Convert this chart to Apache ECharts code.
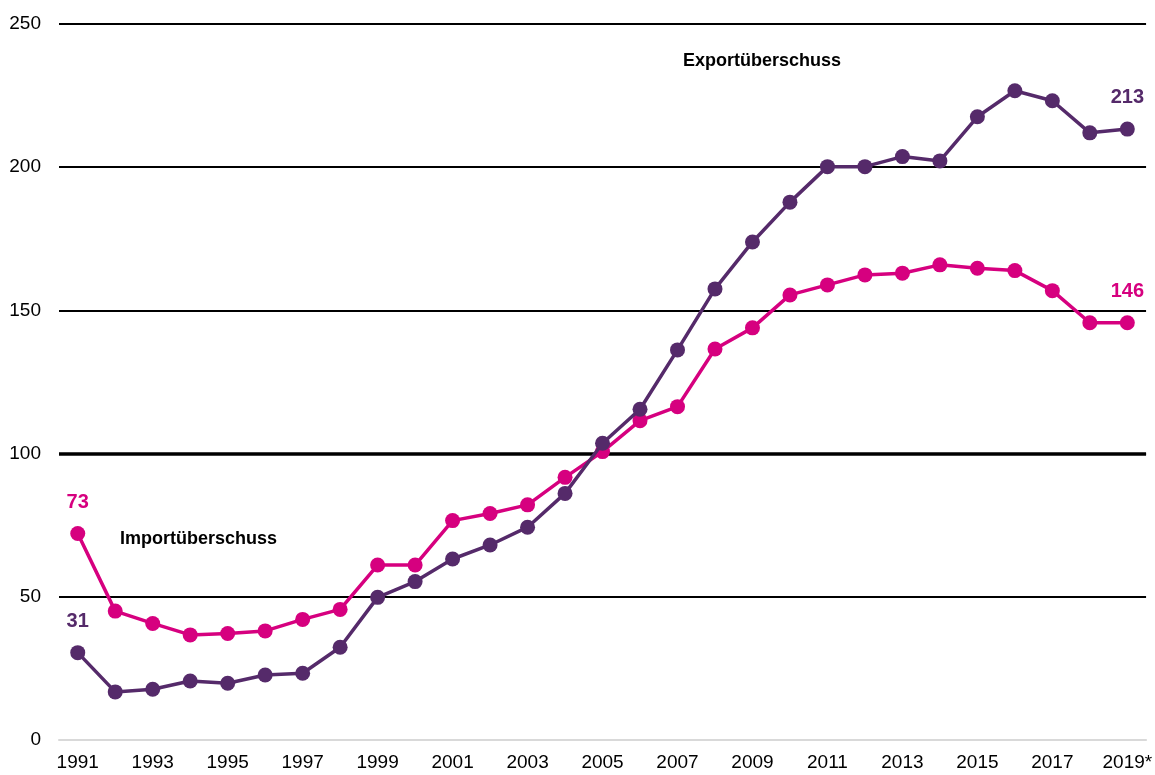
<!DOCTYPE html>
<html>
<head>
<meta charset="utf-8">
<script src="https://cdn.jsdelivr.net/npm/echarts@6/dist/echarts.min.js"></script>
<style>
  html, body { margin: 0; padding: 0; background: #fff; overflow: hidden; }
  #chart { width: 1155px; height: 775px; }
</style>
</head>
<body>
<div id="chart"></div>
<script>
const years = ["1991","1992","1993","1994","1995","1996","1997","1998","1999","2000",
  "2001","2002","2003","2004","2005","2006","2007","2008","2009","2010",
  "2011","2012","2013","2014","2015","2016","2017","2018","2019*"];

// purple line
const exportValues = [30.5, 16.8, 17.7, 20.6, 19.8, 22.7, 23.3, 32.4, 49.8, 55.3,
  63.2, 68.1, 74.3, 86.1, 103.6, 115.5, 136.2, 157.5, 173.9, 187.8,
  200.2, 200.2, 203.7, 202.2, 217.6, 226.7, 223.2, 212.0, 213.3];

// pink line
const importValues = [72.1, 45.0, 40.7, 36.7, 37.2, 38.1, 42.1, 45.6, 61.1, 61.1,
  76.6, 79.1, 82.1, 91.7, 100.7, 111.5, 116.4, 136.5, 143.9, 155.4,
  158.9, 162.4, 163.0, 165.9, 164.7, 163.9, 156.9, 145.7, 145.7];

const exportLabels = { 0: "31", 28: "213" };
const importLabels = { 0: "73", 28: "146" };

const PURPLE = "#552a6a";
const PINK = "#d6007f";
const FONT = "'Liberation Sans Narrow', 'Arial Narrow', 'Liberation Sans', sans-serif";

function withLabels(values, labels, color) {
  return values.map((v, i) => {
    if (!labels[i]) return v;
    return {
      value: v,
      label: {
        show: true,
        position: "top",
        distance: 14,
        formatter: labels[i],
        color: color,
        fontFamily: FONT,
        fontWeight: "bold",
        fontSize: 20
      }
    };
  });
}

const chart = echarts.init(document.getElementById("chart"));

chart.setOption({
  backgroundColor: "#fff",
  animation: false,
  grid: { left: 59, right: 0, top: 24, bottom: 35 },
  xAxis: {
    type: "category",
    data: years,
    boundaryGap: true,
    axisLine: { lineStyle: { color: "#d9d9d9", width: 2 } },
    axisTick: { show: false },
    axisLabel: {
      interval: 1,
      margin: 13,
      color: "#000",
      fontFamily: FONT,
      fontSize: 19
    }
  },
  yAxis: {
    type: "value",
    min: 0,
    max: 250,
    interval: 50,
    axisLine: { show: false },
    axisTick: { show: false },
    axisLabel: {
      margin: 18,
      color: "#000",
      fontFamily: FONT,
      fontSize: 19
    },
    splitLine: {
      lineStyle: {
        color: ["#d9d9d9", "#000", "#000", "#000", "#000", "#000"],
        width: 2
      }
    }
  },
  graphic: [
    {
      type: "text",
      left: 683,
      top: 52,
      style: {
        text: "Exportüberschuss",
        fill: "#000",
        font: "bold 18px " + FONT
      }
    },
    {
      type: "text",
      left: 120,
      top: 530,
      style: {
        text: "Importüberschuss",
        fill: "#000",
        font: "bold 18px " + FONT
      }
    }
  ],
  series: [
    {
      name: "Import",
      type: "line",
      data: withLabels(importValues, importLabels, PINK),
      symbol: "circle",
      symbolSize: 15,
      lineStyle: { color: PINK, width: 3.5 },
      itemStyle: { color: PINK },
      z: 3
    },
    {
      name: "Export",
      type: "line",
      data: withLabels(exportValues, exportLabels, PURPLE),
      symbol: "circle",
      symbolSize: 15,
      lineStyle: { color: PURPLE, width: 3.5 },
      itemStyle: { color: PURPLE },
      z: 4,
      markLine: {
        silent: true,
        symbol: "none",
        label: { show: false },
        lineStyle: { color: "#000", width: 3.5, type: "solid" },
        data: [{ yAxis: 100 }],
        z: 1
      }
    }
  ]
});
</script>
</body>
</html>
